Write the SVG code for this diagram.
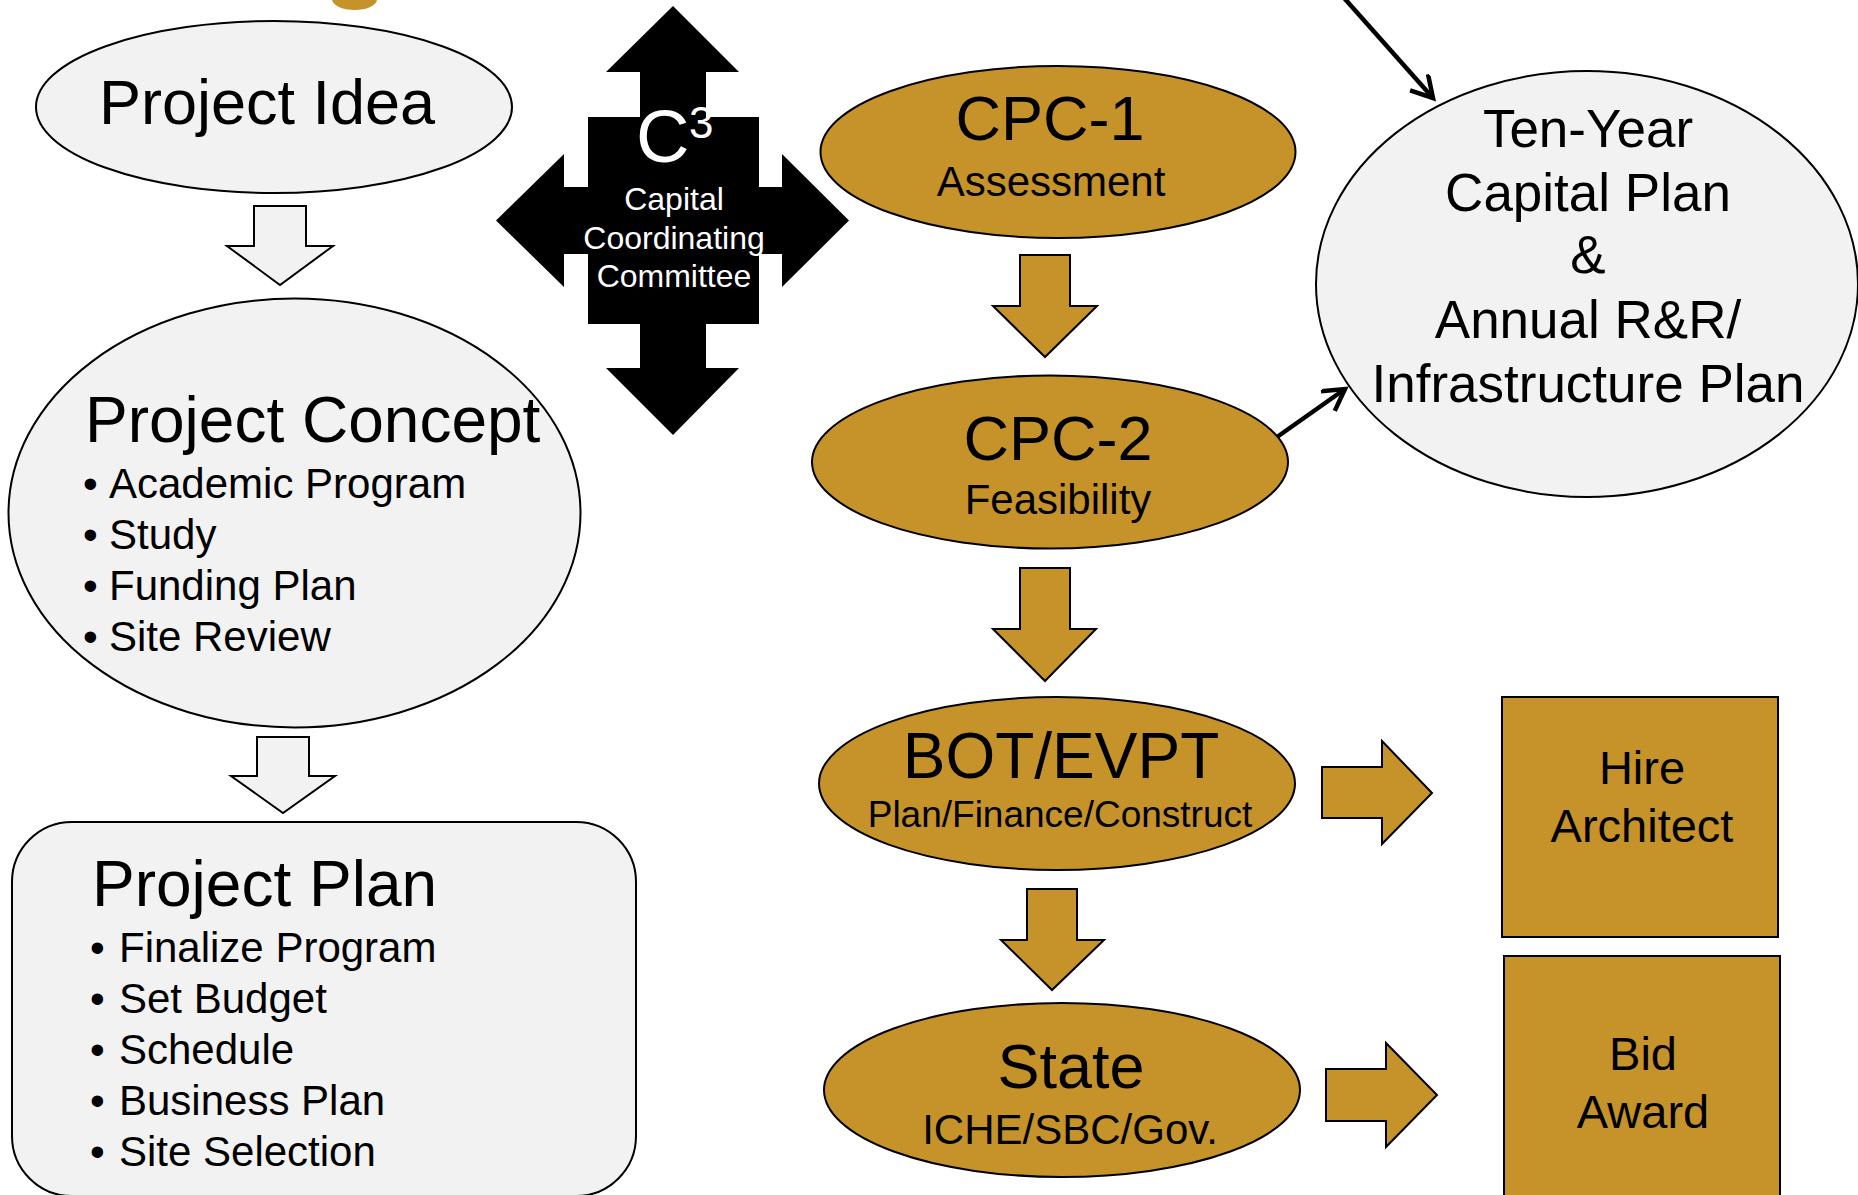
<svg xmlns="http://www.w3.org/2000/svg" width="1858" height="1195" viewBox="0 0 1858 1195">
<style>
text{font-family:"Liberation Sans",Arial,sans-serif;fill:#000}
.lt{fill:#F2F2F2;stroke:#000;stroke-width:2}
.gd{fill:#C6922A;stroke:#000;stroke-width:2}
.t64{font-size:64px}
.t42{font-size:42px}
.t47{font-size:47px}
.t53{font-size:53px}
.t37{font-size:37px}
.mid{text-anchor:middle}
.wh{fill:#fff}
.conn{stroke:#000;stroke-width:4.5;fill:none;marker-end:url(#open)}
</style>
<defs>
<marker id="open" markerUnits="userSpaceOnUse" markerWidth="32" markerHeight="32" refX="23" refY="13" orient="auto" viewBox="0 0 32 32">
<path d="M2,1 L23,13 L2,25" fill="none" stroke="#000" stroke-width="4.5" stroke-linejoin="miter"/>
</marker>
</defs>
<rect width="1858" height="1195" fill="#fff"/>

<path d="M332,0 C334,7 345,10 355,10 C366,10 376,6 377,0 Z" fill="#C6922A"/>

<g id="c3">
<path d="M673,6 L739,72 L706,72 L706,117 L759,117 L759,187 L782,187 L782,154 L849,220.5 L782,287 L782,254 L759,254 L759,324 L706,324 L706,368 L739,368 L673,435 L606,368 L640,368 L640,324 L588,324 L588,254 L564,254 L564,287 L496,220.5 L564,154 L564,187 L588,187 L588,117 L640,117 L640,72 L606,72 Z" fill="#000"/>
<text class="wh" x="636" y="162" style="font-size:74px">C</text>
<text class="wh" x="689" y="138" style="font-size:44px">3</text>
<text class="wh mid" x="674" y="210" style="font-size:32px">Capital</text>
<text class="wh mid" x="674" y="249" style="font-size:32px">Coordinating</text>
<text class="wh mid" x="674" y="287" style="font-size:32px">Committee</text>
</g>

<g id="project-idea">
<ellipse class="lt" cx="274" cy="107" rx="238" ry="86"/>
<text class="t64 mid" x="267" y="124" style="font-size:63px">Project Idea</text>
</g>

<g id="project-concept">
<ellipse class="lt" cx="294.5" cy="513" rx="286" ry="214.5"/>
<text class="t64" x="85" y="442">Project Concept</text>
<text class="t42" x="83" y="498">•</text><text class="t42" x="109" y="498">Academic Program</text>
<text class="t42" x="83" y="549">•</text><text class="t42" x="109" y="549">Study</text>
<text class="t42" x="83" y="600">•</text><text class="t42" x="109" y="600">Funding Plan</text>
<text class="t42" x="83" y="651">•</text><text class="t42" x="109" y="651">Site Review</text>
</g>

<g id="project-plan">
<rect class="lt" x="12" y="822" width="624" height="374" rx="60" ry="60"/>
<text class="t64" x="92" y="906">Project Plan</text>
<text class="t42" x="90" y="962">•</text><text class="t42" x="119" y="962">Finalize Program</text>
<text class="t42" x="90" y="1013">•</text><text class="t42" x="119" y="1013">Set Budget</text>
<text class="t42" x="90" y="1064">•</text><text class="t42" x="119" y="1064">Schedule</text>
<text class="t42" x="90" y="1115">•</text><text class="t42" x="119" y="1115">Business Plan</text>
<text class="t42" x="90" y="1166">•</text><text class="t42" x="119" y="1166">Site Selection</text>
</g>

<g id="cpc1">
<ellipse class="gd" cx="1058" cy="152" rx="237.5" ry="86"/>
<text class="t64 mid" x="1050" y="140" style="font-size:63px">CPC-1</text>
<text class="t42 mid" x="1051" y="196">Assessment</text>
</g>

<g id="cpc2">
<ellipse class="gd" cx="1050" cy="462" rx="238" ry="86.5"/>
<text class="t64 mid" x="1058" y="460" style="font-size:63px">CPC-2</text>
<text class="t42 mid" x="1058" y="514">Feasibility</text>
</g>

<g id="bot">
<ellipse class="gd" cx="1057" cy="783.5" rx="238" ry="86.5"/>
<text class="t64 mid" x="1061" y="778">BOT/EVPT</text>
<text class="t37 mid" x="1060" y="827">Plan/Finance/Construct</text>
</g>

<g id="state">
<ellipse class="gd" cx="1062" cy="1090" rx="238" ry="87"/>
<text class="t64 mid" x="1071" y="1088" style="font-size:63px">State</text>
<text class="t42 mid" x="1070" y="1144">ICHE/SBC/Gov.</text>
</g>

<g id="hire-architect">
<rect class="gd" x="1502" y="697" width="276" height="240"/>
<text class="t47 mid" x="1642" y="784">Hire</text>
<text class="t47 mid" x="1642" y="842">Architect</text>
</g>

<g id="bid-award">
<rect class="gd" x="1504" y="956" width="276" height="250"/>
<text class="t47 mid" x="1643" y="1070">Bid</text>
<text class="t47 mid" x="1643" y="1128">Award</text>
</g>

<g id="ten-year-plan">
<ellipse class="lt" cx="1587" cy="284" rx="271" ry="213"/>
<text class="t53 mid" x="1588" y="147">Ten-Year</text>
<text class="t53 mid" x="1588" y="211">Capital Plan</text>
<text class="t53 mid" x="1588" y="273">&amp;</text>
<text class="t53 mid" x="1588" y="338">Annual R&amp;R/</text>
<text class="t53 mid" x="1588" y="402">Infrastructure Plan</text>
</g>

<g id="connectors">
<path class="lt" d="M254,206 L306,206 L306,246 L333,246 L280,285 L227,246 L254,246 Z"/>
<path class="lt" d="M257,737 L309,737 L309,776 L335,776 L283,813 L231,776 L257,776 Z"/>
<path class="gd" d="M1020,255 L1070,255 L1070,306 L1097,306 L1045,357 L993,306 L1020,306 Z"/>
<path class="gd" d="M1020,568 L1070,568 L1070,629 L1096,629 L1045,681 L993,629 L1020,629 Z"/>
<path class="gd" d="M1027,889 L1077,889 L1077,940 L1104,940 L1052,990 L1001,940 L1027,940 Z"/>
<path class="gd" d="M1322,767 L1382,767 L1382,741 L1432,793 L1382,844 L1382,818 L1322,818 Z"/>
<path class="gd" d="M1326,1069 L1386,1069 L1386,1043 L1437,1095 L1386,1147 L1386,1121 L1326,1121 Z"/>
<line class="conn" x1="1337" y1="-10" x2="1433" y2="98"/>
<line class="conn" x1="1277" y1="437" x2="1345" y2="389"/>
</g>
</svg>
